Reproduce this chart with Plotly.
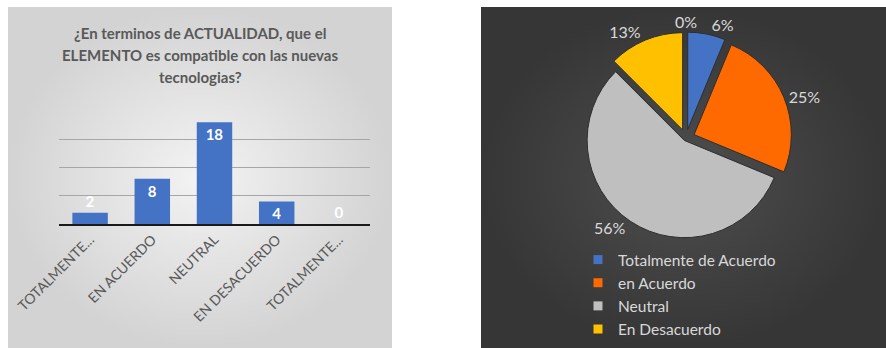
import math
import plotly.graph_objects as go

W, H = 886, 348

# Survey answers (same data in both charts)
categorias = ["TOTALMENTE DE ACUERDO", "EN ACUERDO", "NEUTRAL",
              "EN DESACUERDO", "TOTALMENTE EN DESACUERDO"]
etiquetas_eje = ["TOTALMENTE...", "EN ACUERDO", "NEUTRAL",
                 "EN DESACUERDO", "TOTALMENTE..."]
respuestas = [2, 8, 18, 4, 0]

nombres_pie = ["Totalmente de Acuerdo", "en Acuerdo", "Neutral",
               "En Desacuerdo", "Totalmente en Desacuerdo"]
colores_pie = ["#4472c4", "#ff6a00", "#bfbfbf", "#ffc000", "#255e91"]
separacion = [0.09, 0.09, 0.03, 0.09, 0.09]

titulo = ["¿En terminos de ACTUALIDAD, que el",
          "ELEMENTO es compatible con las nuevas",
          "tecnologias?"]

FONT = "Lato"
TXT_PIE = "#d9d9d9"


def px_x(x):
    return x / W


def px_y(y):
    return 1 - y / H


fig = go.Figure()

# Panel backgrounds on a hidden pixel-space axis pair
def panel(x0, y0, x1, y1, c_centro, c_borde):
    fig.add_trace(go.Scatter(
        x=[x0, x1, x1, x0, x0], y=[y0, y0, y1, y1, y0],
        mode="lines", line=dict(width=0), fill="toself",
        fillgradient=dict(type="radial",
                          colorscale=[[0, c_centro], [1, c_borde]]),
        hoverinfo="skip", showlegend=False, xaxis="x", yaxis="y"))


panel(8, 7, 392, 348, "#f3f3f3", "#d3d3d3")
panel(481, 7, 886, 348, "#4e4e4e", "#363636")

# Bar chart
bar_font = dict(family=FONT, size=15, color="white", weight="bold")
fig.add_trace(go.Bar(
    x=categorias, y=respuestas,
    marker=dict(color="#4472c4", line=dict(width=0)),
    width=0.57,
    text=[str(v) for v in respuestas],
    textposition=["outside", "inside", "inside", "inside", "outside"],
    insidetextanchor="end",
    textangle=0,
    cliponaxis=False,
    constraintext="none",
    textfont=bar_font, outsidetextfont=bar_font, insidetextfont=bar_font,
    hoverinfo="skip", showlegend=False,
    xaxis="x2", yaxis="y2"))

# Pie chart; percentages rounded half-up, the empty slice labelled apart
total = sum(respuestas)
pct = [f"{math.floor(100 * v / total + 0.5)}%" for v in respuestas]
fig.add_trace(go.Pie(
    labels=nombres_pie, values=respuestas,
    sort=False, direction="clockwise", rotation=0,
    pull=separacion,
    marker=dict(colors=colores_pie,
                line=dict(color="#2e2e2e",
                          width=[1 if v > 0 else 0 for v in respuestas])),
    text=pct, texttemplate="%{text}",
    textposition=["outside" if v > 0 else "none" for v in respuestas],
    textfont=dict(family=FONT, size=16, color=TXT_PIE),
    domain=dict(x=[px_x(580), px_x(792)], y=[px_y(244), px_y(32)]),
    hoverinfo="skip", showlegend=False,
))

# Legend entries for the answered categories
for nombre, color, v in zip(nombres_pie, colores_pie, respuestas):
    if v > 0:
        fig.add_trace(go.Scatter(
            x=[None], y=[None], mode="markers", name=nombre,
            marker=dict(symbol="square", size=9, color=color),
            xaxis="x", yaxis="y", hoverinfo="skip"))

# Title, one annotation per line
annotations = []
for i, linea in enumerate(titulo):
    annotations.append(dict(
        text=linea, x=px_x(200), y=px_y(33 + 22 * i),
        xref="paper", yref="paper",
        xanchor="center", yanchor="middle", showarrow=False,
        font=dict(family=FONT, size=15, color="#595959", weight="bold")))
for v, p in zip(respuestas, pct):
    if v == 0:
        annotations.append(dict(
            text=p, x=px_x(686), y=px_y(22), xref="paper", yref="paper",
            xanchor="center", yanchor="middle", showarrow=False,
            font=dict(family=FONT, size=16, color=TXT_PIE)))

fig.update_layout(
    width=W, height=H,
    margin=dict(l=0, r=0, t=0, b=0, autoexpand=False),
    paper_bgcolor="white",
    plot_bgcolor="rgba(0,0,0,0)",
    font=dict(family=FONT),
    xaxis=dict(domain=[0, 1], range=[0, W], visible=False, fixedrange=True),
    yaxis=dict(domain=[0, 1], range=[H, 0], visible=False, fixedrange=True),
    xaxis2=dict(domain=[px_x(59), px_x(370)], anchor="y2",
                tickvals=categorias, ticktext=etiquetas_eje,
                tickangle=-45, ticks="",
                tickfont=dict(family=FONT, size=14, color="#595959"),
                showline=True, linecolor="#1a1a1a", linewidth=2,
                showgrid=False, automargin=False),
    yaxis2=dict(domain=[px_y(224), px_y(111)], anchor="x2",
                range=[0, 20], dtick=5, showticklabels=False,
                showgrid=True, gridcolor="#a6a6a6", gridwidth=1,
                zeroline=False, showline=False, automargin=False),
    showlegend=True,
    legend=dict(x=px_x(578), y=px_y(243), xanchor="left", yanchor="top",
                bgcolor="rgba(0,0,0,0)", tracegroupgap=0,
                font=dict(family=FONT, size=15.5, color=TXT_PIE)),
    annotations=annotations,
    bargap=0.43,
)

fig.write_html("out.html")
